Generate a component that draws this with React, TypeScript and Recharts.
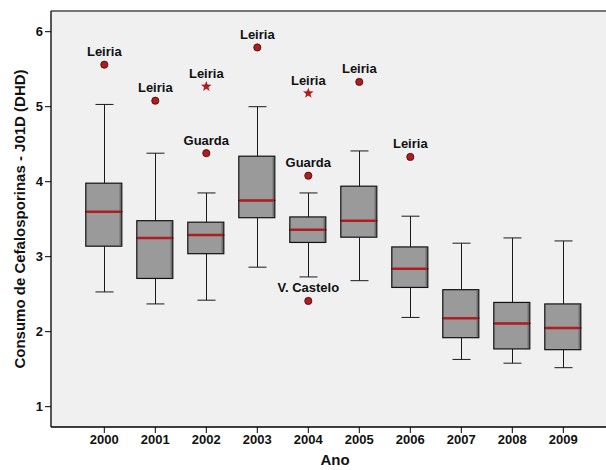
import React from "react"
import { Bar, CartesianGrid, ComposedChart, ReferenceLine, Scatter, XAxis, YAxis } from "recharts"

const years = ["2000", "2001", "2002", "2003", "2004", "2005", "2006", "2007", "2008", "2009"]
const mins = [2.53, 2.37, 2.42, 2.86, 2.73, 2.68, 2.19, 1.63, 1.58, 1.52]
const q1s = [3.14, 2.71, 3.04, 3.52, 3.19, 3.26, 2.59, 1.92, 1.77, 1.76]
const medians = [3.6, 3.25, 3.29, 3.75, 3.36, 3.48, 2.84, 2.18, 2.11, 2.05]
const q3s = [3.98, 3.48, 3.46, 4.34, 3.53, 3.94, 3.13, 2.56, 2.39, 2.37]
const maxs = [5.03, 4.38, 3.85, 5.0, 3.85, 4.41, 3.54, 3.18, 3.25, 3.21]

const outliers = [
  { year: "2000", value: 5.56, name: "Leiria", kind: "circle" },
  { year: "2001", value: 5.08, name: "Leiria", kind: "circle" },
  { year: "2002", value: 5.27, name: "Leiria", kind: "star" },
  { year: "2002", value: 4.38, name: "Guarda", kind: "circle" },
  { year: "2003", value: 5.79, name: "Leiria", kind: "circle" },
  { year: "2004", value: 5.18, name: "Leiria", kind: "star" },
  { year: "2004", value: 4.08, name: "Guarda", kind: "circle" },
  { year: "2004", value: 2.41, name: "V. Castelo", kind: "circle" },
  { year: "2005", value: 5.33, name: "Leiria", kind: "circle" },
  { year: "2006", value: 4.33, name: "Leiria", kind: "circle" },
]

const yTicks = [1, 2, 3, 4, 5, 6]
const yDomain = [0.729, 6.276]

const data = years.map((year, i) => {
  const row: any = {
    year,
    base: mins[i],
    lowWhisker: q1s[i] - mins[i],
    lowBox: medians[i] - q1s[i],
    highBox: q3s[i] - medians[i],
    highWhisker: maxs[i] - q3s[i],
  }
  outliers
    .filter((o) => o.year === year)
    .forEach((o, k) => {
      row[`o${k}`] = o.value
      row[`n${k}`] = o.name
      row[`k${k}`] = o.kind
    })
  return row
})

const FONT = "'Liberation Sans', Arial, sans-serif"
const RED = "#b01c1f"
const CAP = 9

const LowWhisker = (props: any) => {
  const { x, y, width, height } = props
  const cx = Math.round(x + width / 2) + 0.5
  const bottom = y + height
  return (
    <g stroke="#1a1a1a" strokeWidth={1}>
      <line x1={cx} x2={cx} y1={y} y2={bottom} />
      <line x1={cx - CAP} x2={cx + CAP} y1={bottom} y2={bottom} />
    </g>
  )
}

const HighWhisker = (props: any) => {
  const { x, y, width, height } = props
  const cx = Math.round(x + width / 2) + 0.5
  return (
    <g stroke="#1a1a1a" strokeWidth={1}>
      <line x1={cx} x2={cx} y1={y} y2={y + height} />
      <line x1={cx - CAP} x2={cx + CAP} y1={y} y2={y} />
    </g>
  )
}

const BoxPart = (props: any) => {
  const { x, y, width, height, median } = props
  return (
    <g>
      <rect x={x} y={y} width={width} height={height} fill="#9a9a9a" stroke="#111" strokeWidth={1.2} />
      <line x1={x + width - 1.5} x2={x + width - 1.5} y1={y + 1} y2={y + height - 1} stroke="#6e6e6e" strokeWidth={1.5} />
      {median && <line x1={x + 0.6} x2={x + width - 0.6} y1={y + height} y2={y + height} stroke={RED} strokeWidth={2.5} />}
    </g>
  )
}

const starPoints = (cx: number, cy: number, ro: number, ri: number) => {
  const pts: string[] = []
  for (let i = 0; i < 10; i++) {
    const r = i % 2 === 0 ? ro : ri
    const a = -Math.PI / 2 + (i * Math.PI) / 5
    pts.push(`${cx + r * Math.cos(a)},${cy + r * Math.sin(a)}`)
  }
  return pts.join(" ")
}

const outlierShape = (k: number) => (props: any) => {
  const { cx, cy, payload } = props
  if (!payload || payload[`o${k}`] == null || cx == null || cy == null || isNaN(cy)) return <g />
  const kind = payload[`k${k}`]
  return (
    <g>
      {kind === "star" ? (
        <polygon points={starPoints(cx, cy, 5.5, 2.3)} fill={RED} />
      ) : (
        <circle cx={cx} cy={cy} r={3.6} fill={RED} stroke="#3a0a0a" strokeWidth={0.8} />
      )}
      <text x={cx} y={cy - 13} textAnchor="middle" dominantBaseline="central" fontFamily={FONT} fontWeight="bold" fontSize={13} fill="#111">
        {payload[`n${k}`]}
      </text>
    </g>
  )
}

export default function App() {
  return (
    <div style={{ position: "absolute", left: 0, top: 0, width: 606, height: 470, background: "#fff", overflow: "hidden" }}>
      <ComposedChart width={606} height={470} data={data} margin={{ top: 11, right: 0, bottom: 0, left: 0 }}>
        <CartesianGrid fill="#f0f0f0" horizontal={false} vertical={false} stroke="none" />
        <XAxis
          dataKey="year"
          height={43}
          padding={{ left: 27.8, right: 17.2 }}
          tickSize={6}
          tickMargin={2}
          axisLine={{ stroke: "#000", strokeWidth: 1.3 }}
          tickLine={{ stroke: "#000" }}
          tick={{ fill: "#111", fontFamily: FONT, fontWeight: "bold", fontSize: 13 }}
          label={{
            content: () => (
              <text x={335} y={459} textAnchor="middle" dominantBaseline="central" fontFamily={FONT} fontWeight="bold" fontSize={15} fill="#111">
                Ano
              </text>
            ),
          }}
        />
        <YAxis
          type="number"
          width={51}
          domain={yDomain}
          ticks={yTicks}
          allowDataOverflow
          tickSize={6}
          tickMargin={2}
          axisLine={{ stroke: "#000", strokeWidth: 1.3 }}
          tickLine={{ stroke: "#000" }}
          tick={{ fill: "#111", fontFamily: FONT, fontWeight: "bold", fontSize: 13 }}
          label={{
            content: () => (
              <text
                transform="translate(19,219) rotate(-90)"
                textAnchor="middle"
                dominantBaseline="central"
                fontFamily={FONT}
                fontWeight="bold"
                fontSize={15}
                fill="#111"
              >
                Consumo de Cefalosporinas - J01D (DHD)
              </text>
            ),
          }}
        />
        <ReferenceLine y={yDomain[1]} stroke="#777" strokeWidth={2} ifOverflow="visible" />
        <Bar dataKey="base" stackId="box" barSize={36} fill="none" isAnimationActive={false} />
        <Bar dataKey="lowWhisker" stackId="box" barSize={36} shape={LowWhisker} isAnimationActive={false} />
        <Bar dataKey="lowBox" stackId="box" barSize={36} shape={(p: any) => <BoxPart {...p} />} isAnimationActive={false} />
        <Bar dataKey="highBox" stackId="box" barSize={36} shape={(p: any) => <BoxPart {...p} median />} isAnimationActive={false} />
        <Bar dataKey="highWhisker" stackId="box" barSize={36} shape={HighWhisker} isAnimationActive={false} />
        <Scatter dataKey="o0" shape={outlierShape(0)} isAnimationActive={false} />
        <Scatter dataKey="o1" shape={outlierShape(1)} isAnimationActive={false} />
        <Scatter dataKey="o2" shape={outlierShape(2)} isAnimationActive={false} />
      </ComposedChart>
    </div>
  )
}
